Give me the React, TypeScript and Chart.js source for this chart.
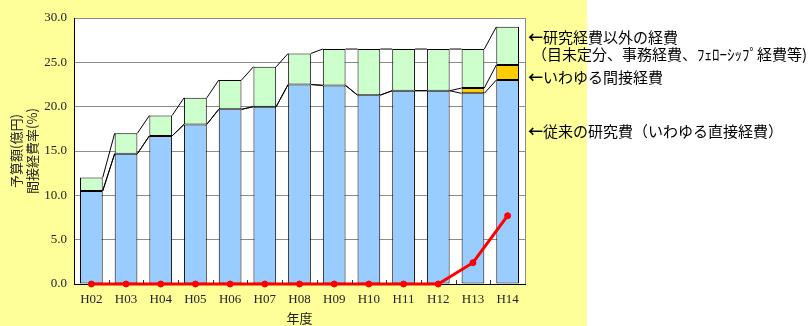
import React, { useEffect, useRef } from 'react';
import { Chart, registerables } from 'chart.js';

Chart.register(...registerables);

const categories = ['H02', 'H03', 'H04', 'H05', 'H06', 'H07', 'H08', 'H09', 'H10', 'H11', 'H12', 'H13', 'H14'];
// 従来の研究費（いわゆる直接経費）
const directCost = [10.5, 14.7, 16.7, 18.0, 19.7, 20.0, 22.5, 22.4, 21.3, 21.8, 21.8, 21.5, 23.0];
// いわゆる間接経費
const indirectCost = [0, 0, 0, 0, 0, 0, 0, 0, 0, 0, 0, 0.6, 1.7];
// 研究経費以外の経費
const otherCost = [1.5, 2.3, 2.3, 3.0, 3.3, 4.5, 3.5, 4.1, 5.2, 4.7, 4.7, 4.4, 4.3];
// 間接経費率(%)
const indirectRate = [0, 0, 0, 0, 0, 0, 0, 0, 0, 0, 0, 2.4, 7.7];

const yTitleLines = ['予算額(億円)', '間接経費率(%)'];
const xTitle = '年度';

const W = 808;
const H = 326;

const decorPlugin = {
  id: 'decor',
  beforeDraw(chart: any) {
    const { ctx, chartArea } = chart;
    ctx.save();
    ctx.fillStyle = '#FFFFFF';
    ctx.fillRect(0, 0, W, H);
    ctx.fillStyle = '#FFFF99';
    ctx.fillRect(0, 0, 587, H);
    ctx.fillStyle = '#FFFFFF';
    ctx.fillRect(chartArea.left, chartArea.top, chartArea.right - chartArea.left, chartArea.bottom - chartArea.top);
    ctx.restore();
  },
  beforeDatasetsDraw(chart: any) {
    // series lines connecting stack levels between neighbouring bars
    const { ctx } = chart;
    const y = chart.scales.y;
    const meta = chart.getDatasetMeta(0);
    const l1 = directCost.map((v) => v);
    const l2 = directCost.map((v, i) => v + indirectCost[i]);
    const l3 = directCost.map((v, i) => v + indirectCost[i] + otherCost[i]);
    const levels: number[][] = [l1, l2, l3];
    ctx.save();
    ctx.strokeStyle = '#000000';
    ctx.lineWidth = 1;
    for (const lv of levels) {
      for (let i = 0; i < categories.length - 1; i++) {
        const a: any = meta.data[i];
        const b: any = meta.data[i + 1];
        ctx.beginPath();
        ctx.moveTo(a.x + a.width / 2, y.getPixelForValue(lv[i]));
        ctx.lineTo(b.x - b.width / 2, y.getPixelForValue(lv[i + 1]));
        ctx.stroke();
      }
    }
    ctx.restore();
  },
  afterDatasetsDraw(chart: any) {
    const { ctx, chartArea } = chart;
    const x = chart.scales.x;
    ctx.save();
    // right border of plot area
    ctx.strokeStyle = '#8c8c8c';
    ctx.lineWidth = 1;
    ctx.beginPath();
    ctx.moveTo(Math.round(chartArea.right) + 0.5, chartArea.top);
    ctx.lineTo(Math.round(chartArea.right) + 0.5, chartArea.bottom);
    ctx.stroke();
    // inward tick marks at category boundaries
    const n = categories.length;
    const cw = (chartArea.right - chartArea.left) / n;
    ctx.strokeStyle = '#333333';
    for (let i = 1; i < n; i++) {
      const px = Math.round(x.getPixelForValue(i) - cw / 2) + 0.5;
      ctx.beginPath();
      ctx.moveTo(px, chartArea.bottom);
      ctx.lineTo(px, chartArea.bottom - 4);
      ctx.stroke();
    }
    ctx.restore();
  },
};

const notes = [
  { top: 37, left: 528, text: '研究経費以外の経費', arrow: true },
  { top: 54, left: 532, text: '（目未定分、事務経費、ﾌｪﾛｰｼｯﾌﾟ経費等)', arrow: false },
  { top: 77, left: 528, text: 'いわゆる間接経費', arrow: true },
  { top: 131, left: 528, text: '従来の研究費（いわゆる直接経費）', arrow: true },
];

export default function App() {
  const ref = useRef<HTMLCanvasElement | null>(null);

  useEffect(() => {
    if (!ref.current) return;
    const barCommon = {
      type: 'bar' as const,
      stack: 'cost',
      borderColor: '#000000',
      borderWidth: (c: any) => (c.raw === 0 ? 0 : 1),
      borderSkipped: false,
      barPercentage: 0.655,
      categoryPercentage: 1,
      order: 1,
    };
    const chart = new Chart(ref.current, {
      type: 'bar',
      data: {
        labels: categories,
        datasets: [
          { ...barCommon, label: '従来の研究費（いわゆる直接経費）', data: directCost, backgroundColor: '#99CCFF' } as any,
          { ...barCommon, label: 'いわゆる間接経費', data: indirectCost, backgroundColor: '#FFCC00' } as any,
          { ...barCommon, label: '研究経費以外の経費', data: otherCost, backgroundColor: '#CCFFCC' } as any,
          {
            type: 'line' as const,
            label: '間接経費率(%)',
            data: indirectRate,
            stack: 'rate',
            borderColor: '#FF0000',
            backgroundColor: '#FF0000',
            borderWidth: 3,
            pointRadius: 3,
            pointBackgroundColor: '#FF0000',
            pointBorderColor: '#FF0000',
            pointBorderWidth: 1,
            clip: false,
            order: 0,
            tension: 0,
          } as any,
        ],
      },
      options: {
        responsive: false,
        animation: false,
        devicePixelRatio: 1,
        layout: { padding: { left: 0, right: W - 525, top: 18, bottom: 0 } },
        plugins: { legend: { display: false }, tooltip: { enabled: false } },
        scales: {
          x: {
            stacked: true,
            grid: { display: true, drawOnChartArea: false, drawTicks: false },
            border: { display: true, color: '#000000', width: 1 },
            ticks: {
              color: '#222222',
              padding: 8,
              font: { family: '"Liberation Serif", serif', size: 13 },
            },
            title: {
              display: true,
              text: xTitle,
              color: '#222222',
              padding: { top: 0, bottom: 0 },
              font: { family: '"Noto Sans CJK JP", sans-serif', size: 13, lineHeight: 1.2 },
            },
            afterFit(scale: any) {
              scale.height = 42;
            },
          },
          y: {
            stacked: true,
            min: 0,
            max: 30,
            ticks: {
              stepSize: 5,
              color: '#222222',
              padding: 7,
              font: { family: '"Liberation Serif", serif', size: 13 },
              callback: (v: any) => Number(v).toFixed(1),
            },
            grid: { color: '#8c8c8c', lineWidth: 1, drawTicks: false },
            border: { display: true, color: '#000000', width: 1 },
            title: {
              display: true,
              text: yTitleLines,
              color: '#222222',
              padding: { top: 8, bottom: 0 },
              font: { family: '"Noto Sans CJK JP", sans-serif', size: 13, lineHeight: 1.23 },
            },
            afterFit(scale: any) {
              scale.width = 74;
            },
          },
        },
      },
      plugins: [decorPlugin],
    });
    return () => chart.destroy();
  }, []);

  return (
    <div style={{ position: 'fixed', left: 0, top: 0, width: W, height: H, overflow: 'hidden' }}>
      <canvas ref={ref} width={W} height={H} style={{ display: 'block', width: W, height: H }} />
      {notes.map((n, i) => (
        <div
          key={i}
          style={{
            position: 'absolute',
            left: n.left,
            top: n.top - 9,
            height: 18,
            lineHeight: '18px',
            fontSize: 15,
            fontFamily: '"Noto Sans CJK JP", sans-serif',
            color: '#000000',
            whiteSpace: 'nowrap',
          }}
        >
          {n.arrow ? <span style={{ fontWeight: 'bold' }}>←</span> : null}
          {n.text}
        </div>
      ))}
    </div>
  );
}
